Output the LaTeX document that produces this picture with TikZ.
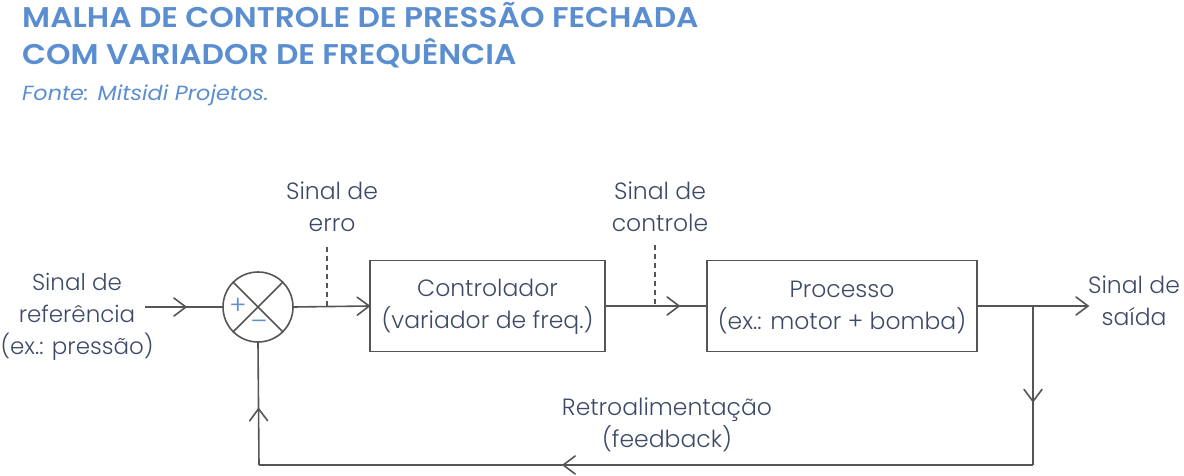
\documentclass[tikz,border=0pt]{standalone}
\usepackage{fontspec}
\setmainfont{Poppins}
\newfontfamily\light{Poppins Light}
\newfontfamily\semi{Poppins SemiBold}
\newfontfamily\semiit{Poppins Italic}
\usetikzlibrary{decorations.markings,arrows.meta}
\definecolor{titleblue}{HTML}{5B8ED0}
\definecolor{txt}{HTML}{3D4A66}
\definecolor{ln}{HTML}{555555}
\begin{document}
\begin{tikzpicture}[x=1pt,y=-1pt,
  lbl/.style={text=txt,font=\light\fontsize{23.5}{32}\selectfont,align=center,inner sep=0pt},
  ttl/.style={anchor=base west,inner sep=0pt,text=titleblue,font=\semi\fontsize{28.5}{30}\selectfont},
  blk/.style={draw=ln,line width=1.6pt,minimum width=#1,minimum height=91,inner sep=0pt},
  wire/.style={draw=ln,line width=1.6pt},
  chev/.style={decoration={markings,mark=at position #1 with {\draw[ln,line width=1.6pt,line cap=round] (-12pt,-9pt)--(0,0)--(-12pt,9pt);}},postaction={decorate}},
  dashline/.style={draw=ln,line width=1.4pt,dash pattern=on 5pt off 4pt}
]
\useasboundingbox (0,0) rectangle (1184,476);
% title
\node[ttl] (t1) at (22,28) {\scalebox{1.095}[1]{MALHA DE CONTROLE DE PRESSÃO FECHADA}};
\node[ttl] (t2) at (22,65) {\scalebox{1.095}[1]{COM VARIADOR DE FREQUÊNCIA}};
\node[anchor=base west,inner sep=0pt,text=titleblue,font=\semiit\fontsize{20.5}{24}\selectfont] (t3) at (22,101) {\scalebox{1.09}[1]{Fonte: Mitsidi Projetos.}};
% blocks
\node[circle,draw=ln,line width=1.6pt,minimum size=70,inner sep=0pt] (sum) at (258,307) {};
\draw[ln,line width=1.6pt] (sum.north west)--(sum.south east) (sum.north east)--(sum.south west);
\node[text=titleblue,font=\fontsize{26}{26}\selectfont\light] (plus) at (238,306) {+};
\node[text=titleblue,font=\fontsize{26}{26}\selectfont\light] (minus) at (259,326) {\raisebox{1pt}{–}};
\node[blk=235] (ctrl) at (487.5,306) {};
\node[blk=270] (proc) at (842,306) {};
\node[lbl] (ctrlt) at (487.5,307) {Controlador\\(variador de freq.)};
\node[lbl] (proct) at (842,307) {Processo\\(ex.: motor + bomba)};
% labels
\node[lbl,font=\light\fontsize{23}{32}\selectfont] (ref) at (77,317) {Sinal de\\referência\\(ex.: pressão)};
\node[lbl] (erro) at (332,207) {Sinal de\\erro};
\node[lbl] (contr) at (660,207) {Sinal de\\controle};
\node[lbl] (said) at (1134,301) {Sinal de\\saída};
\node[lbl] (fb) at (667,425) {Retroalimentação\\(feedback)};
% coordinates
\coordinate (in) at (145,307);
\coordinate (br) at (1033,306);
\coordinate (out) at (1088,306);
\coordinate (bl) at (259,465);
\coordinate (brb) at (1033,465);
\coordinate (e) at (327,307);
\coordinate (etop) at (327,247);
\coordinate (c) at (655,306);
\coordinate (ctop) at (655,245);
% wires
\draw[wire,chev=0.53] (in)--(sum.west);
\draw[wire,chev=1] (sum.east)--(ctrl.west);
\draw[wire,chev=0.73] (ctrl.east)--(proc.west);
\draw[wire,chev=1] (proc.east)--(out);
\draw[wire,chev=0.6] (br)--(brb);
\draw[wire,chev=0.607] (brb)--(bl);
\draw[wire,chev=0.46] (bl)--(sum.south);
\draw[dashline] (etop)--(e);
\draw[dashline] (ctop)--(c);
\end{tikzpicture}
\end{document}
